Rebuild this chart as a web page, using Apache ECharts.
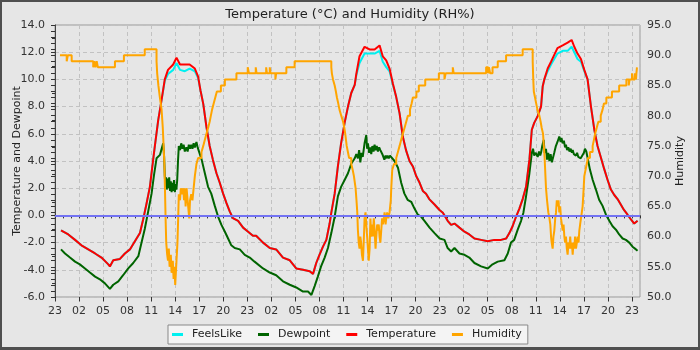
<!DOCTYPE html>
<html>
<head>
<meta charset="utf-8">
<title>Temperature and Humidity</title>
<script src="https://cdn.jsdelivr.net/npm/echarts@6.0.0/dist/echarts.min.js"></script>
<style>
  html, body { margin: 0; padding: 0; background: #e6e6e6; }
  #chart { width: 700px; height: 350px; }
</style>
</head>
<body>
<div id="chart"></div>
<script>
// Time is expressed in hours since 23:00 on the first evening.
const hourTicks = ['23','02','05','08','11','14','17','20','23','02','05','08','11','14','17','20','23','02','05','08','11','14','17','20','23'];

// Air temperature, °C  [hour, value]
const temperature = [
  [0.75,-1.1],[1.66,-1.4],[2.5,-1.8],[3.3,-2.2],[4.15,-2.5],[5.0,-2.8],[5.8,-3.1],[6.65,-3.6],[6.85,-3.75],[7.27,-3.3],
  [8.1,-3.2],[8.72,-2.8],[9.35,-2.5],[9.97,-1.9],[10.6,-1.3],[11.0,-0.3],[11.4,0.8],[11.84,2.1],[12.25,4.1],[12.46,5.1],
  [12.88,7.0],[13.3,8.5],[13.7,10.0],[14.1,10.7],[14.75,11.1],[15.16,11.6],[15.6,11.1],[16.2,11.1],[16.8,11.1],[17.45,10.8],
  [17.86,10.2],[18.15,9.2],[18.5,8.2],[18.9,6.5],[19.3,5.1],[19.7,4.1],[20.15,3.1],[20.56,2.4],[20.98,1.6],[21.4,0.9],
  [21.8,0.3],[22.2,-0.2],[22.85,-0.4],[23.47,-0.9],[24.1,-1.2],[24.7,-1.5],
  [25.1,-1.5],[25.96,-2.0],[26.8,-2.4],[27.6,-2.5],[28.45,-3.1],[29.3,-3.3],[30.1,-3.9],[30.95,-4.0],[31.78,-4.1],[32.2,-4.3],
  [32.6,-3.5],[33.0,-2.9],[33.44,-2.3],[33.86,-1.8],[34.27,-0.6],[34.48,0.2],[34.9,1.6],[35.3,3.6],[35.7,5.3],[36.14,6.8],
  [36.56,8.0],[36.97,9.0],[37.4,9.6],[37.6,10.4],[38.0,11.7],[38.63,12.4],[39.26,12.2],[39.88,12.2],[40.5,12.5],[40.9,11.7],
  [41.33,11.4],[41.75,10.8],[42.16,9.7],[42.58,8.7],[43.0,7.5],[43.4,5.8],[43.8,4.8],[44.24,4.0],[44.66,3.6],[45.07,2.9],
  [45.5,2.4],[45.9,1.8],[46.3,1.6],[46.7,1.2],[47.36,0.8],[47.98,0.4],[48.4,0.2],
  [49.0,-0.4],[49.43,-0.7],[49.85,-0.6],[50.47,-0.9],[51.1,-1.2],[51.7,-1.4],[52.34,-1.7],[53.17,-1.8],[54.0,-1.9],[54.83,-1.8],
  [55.66,-1.8],[56.3,-1.7],[56.7,-1.3],[57.1,-0.8],[57.53,-0.1],[57.95,0.5],[58.36,1.2],[58.78,2.1],[59.2,4.1],[59.5,6.3],
  [59.8,6.8],[60.23,7.3],[60.65,8.0],[60.86,9.5],[61.06,10.0],[61.48,10.8],[61.9,11.3],[62.3,11.8],[62.7,12.3],[63.35,12.5],
  [63.97,12.7],[64.47,12.9],[64.8,12.4],[65.2,11.9],[65.63,11.5],[66.05,10.7],[66.46,10.0],[66.88,8.0],[67.3,6.3],[67.7,5.1],
  [68.1,4.3],[68.54,3.4],[68.96,2.6],[69.37,1.9],[69.79,1.5],[70.2,1.2],[70.6,0.8],[71.0,0.4],[71.45,0.05],[71.87,-0.3],
  [72.28,-0.6],[72.7,-0.4]
];

// Apparent ("feels like") temperature, °C
const feelsLike = [
  [0.75,-1.1],[1.66,-1.4],[2.5,-1.8],[3.3,-2.2],[4.15,-2.5],[5.0,-2.8],[5.8,-3.1],[6.65,-3.6],[6.85,-3.75],[7.27,-3.3],
  [8.1,-3.2],[8.72,-2.8],[9.35,-2.5],[9.97,-1.9],[10.6,-1.3],[11.0,-0.3],[11.4,0.8],[11.84,2.1],[12.25,4.1],[12.46,5.1],
  [12.88,7.0],[13.3,8.5],[13.7,9.9],[14.1,10.4],[14.75,10.7],[15.16,11.2],[15.6,10.7],[16.2,10.6],[16.8,10.8],[17.45,10.6],
  [17.86,10.1],[18.15,9.2],[18.5,8.2],[18.9,6.5],[19.3,5.1],[19.7,4.1],[20.15,3.1],[20.56,2.4],[20.98,1.6],[21.4,0.9],
  [21.8,0.3],[22.2,-0.2],[22.85,-0.4],[23.47,-0.9],[24.1,-1.2],[24.7,-1.5],
  [25.1,-1.5],[25.96,-2.0],[26.8,-2.4],[27.6,-2.5],[28.45,-3.1],[29.3,-3.3],[30.1,-3.9],[30.95,-4.0],[31.78,-4.1],[32.2,-4.3],
  [32.6,-3.5],[33.0,-2.9],[33.44,-2.3],[33.86,-1.8],[34.27,-0.6],[34.48,0.2],[34.9,1.6],[35.3,3.6],[35.7,5.3],[36.14,6.8],
  [36.56,8.0],[36.97,9.0],[37.4,9.6],[37.6,10.3],[38.0,11.2],[38.63,11.9],[39.26,11.9],[39.88,11.9],[40.5,12.1],[40.9,11.3],
  [41.33,10.9],[41.75,10.6],[42.16,9.6],[42.58,8.7],[43.0,7.5],[43.4,5.8],[43.8,4.8],[44.24,4.0],[44.66,3.6],[45.07,2.9],
  [45.5,2.4],[45.9,1.8],[46.3,1.6],[46.7,1.2],[47.36,0.8],[47.98,0.4],[48.4,0.2],
  [49.0,-0.4],[49.43,-0.7],[49.85,-0.6],[50.47,-0.9],[51.1,-1.2],[51.7,-1.4],[52.34,-1.7],[53.17,-1.8],[54.0,-1.9],[54.83,-1.8],
  [55.66,-1.8],[56.3,-1.7],[56.7,-1.3],[57.1,-0.8],[57.53,-0.1],[57.95,0.5],[58.36,1.2],[58.78,2.1],[59.2,4.1],[59.5,6.3],
  [59.8,6.8],[60.23,7.3],[60.65,8.0],[60.86,9.5],[61.06,10.0],[61.48,10.6],[61.9,11.1],[62.3,11.5],[62.7,11.9],[63.35,12.1],
  [63.97,12.1],[64.47,12.4],[64.8,12.0],[65.2,11.5],[65.63,11.3],[66.05,10.6],[66.46,10.0],[66.88,8.0],[67.3,6.3],[67.7,5.1],
  [68.1,4.3],[68.54,3.4],[68.96,2.6],[69.37,1.9],[69.79,1.5],[70.2,1.2],[70.6,0.8],[71.0,0.4],[71.45,0.05],[71.87,-0.3],
  [72.28,-0.6],[72.7,-0.4]
];

// Dew point, °C
const dewpoint = [
  [0.75,-2.5],[1.25,-2.8],[1.87,-3.1],[2.5,-3.4],[3.1,-3.6],[3.74,-3.9],[4.36,-4.2],[5.0,-4.5],[5.6,-4.7],[6.23,-5.0],
  [6.85,-5.4],[7.27,-5.1],[7.9,-4.85],[8.5,-4.4],[9.14,-3.9],[9.76,-3.5],[10.4,-3.0],[10.8,-2.0],[11.2,-1.0],[11.63,0.3],
  [12.05,1.6],[12.34,2.9],[12.67,4.2],[13.1,4.45],[13.5,5.3],[13.62,4.3],[13.7,2.9],[13.78,2.1],[13.86,2.8],[13.95,1.9],
  [14.05,2.7],[14.15,2.0],[14.25,2.8],[14.35,1.8],[14.45,2.5],[14.55,1.7],[14.65,2.4],[14.75,1.8],[14.85,2.6],[14.96,1.7],
  [15.05,2.3],[15.15,1.9],[15.25,2.6],[15.35,4.0],[15.45,5.1],[15.6,4.8],[15.75,5.3],[15.9,4.9],[16.05,5.2],[16.2,4.7],
  [16.4,5.0],[16.55,4.7],[16.7,5.2],[16.85,4.9],[17.0,5.2],[17.15,4.9],[17.3,5.3],[17.45,5.0],[17.65,5.4],[17.8,5.0],
  [17.95,4.9],[18.3,4.1],[18.7,3.1],[19.1,2.1],[19.5,1.6],[19.94,0.7],[20.36,-0.1],[20.77,-0.7],[21.2,-1.2],[21.6,-1.7],
  [22.0,-2.2],[22.43,-2.4],[23.06,-2.5],[23.68,-2.9],[24.3,-3.1],[24.9,-3.4],
  [25.1,-3.5],[25.96,-3.9],[26.8,-4.2],[27.6,-4.4],[28.45,-4.85],[29.3,-5.1],[30.1,-5.3],[30.95,-5.6],[31.57,-5.6],[32.0,-5.85],
  [32.4,-5.2],[32.8,-4.5],[33.2,-3.75],[33.65,-3.1],[34.06,-2.4],[34.48,-1.3],[34.9,-0.1],[35.3,1.4],[35.7,2.1],[36.14,2.6],
  [36.56,3.1],[36.97,3.8],[37.4,4.2],[37.6,4.5],[37.8,4.2],[37.95,4.8],[38.1,3.9],[38.25,4.6],[38.4,4.3],[38.63,5.3],
  [38.84,5.9],[38.95,4.9],[39.05,5.3],[39.2,4.6],[39.35,5.0],[39.46,4.5],[39.6,5.1],[39.75,4.7],[39.88,5.2],[40.0,4.8],
  [40.15,5.1],[40.3,4.7],[40.45,5.0],[40.6,4.8],[40.7,4.9],[40.85,4.5],[41.0,4.4],[41.1,4.1],[41.25,4.4],[41.4,4.2],
  [41.5,4.4],[41.65,4.2],[41.8,4.4],[41.96,4.3],[42.37,4.0],[42.8,3.5],[43.2,2.4],[43.6,1.6],[44.0,1.15],
  [44.45,1.0],[44.86,0.5],[45.28,0.05],[45.7,-0.1],[46.1,-0.4],[46.74,-0.9],[47.36,-1.3],[48.0,-1.7],[48.6,-1.8],
  [49.0,-2.4],[49.43,-2.65],[49.85,-2.4],[50.47,-2.8],[51.1,-2.9],[51.7,-3.1],[52.34,-3.5],[53.17,-3.75],[54.0,-3.9],[54.6,-3.6],
  [55.25,-3.4],[56.08,-3.3],[56.5,-2.8],[56.9,-2.0],[57.3,-1.8],[57.74,-1.05],[58.16,-0.4],[58.45,0.2],[58.78,1.4],[59.2,3.1],
  [59.5,4.6],[59.65,4.9],[59.8,4.4],[60.0,4.6],[60.23,4.3],[60.4,4.7],[60.55,4.4],[60.65,4.6],[60.8,5.1],[60.98,5.55],
  [61.1,4.6],[61.27,4.9],[61.4,4.1],[61.55,4.6],[61.7,4.0],[61.85,4.5],[62.0,3.9],[62.1,4.0],[62.3,4.6],[62.5,5.1],
  [62.7,5.4],[62.93,5.8],[63.1,5.4],[63.2,5.7],[63.35,5.3],[63.5,5.5],[63.65,5.0],[63.76,5.2],[63.9,4.8],[64.05,5.0],
  [64.2,4.7],[64.35,4.9],[64.5,4.6],[64.6,4.8],[64.75,4.5],[64.9,4.6],[65.0,4.4],[65.15,4.6],[65.3,4.3],[65.43,4.4],
  [65.6,4.2],[65.84,4.3],[66.0,4.6],[66.13,4.9],[66.3,4.7],[66.46,4.6],[66.76,3.35],
  [67.1,2.6],[67.5,1.9],[67.9,1.15],[68.33,0.7],[68.75,0.05],[69.17,-0.4],[69.58,-0.8],[70.0,-1.05],[70.4,-1.4],[70.83,-1.7],
  [71.24,-1.8],[71.66,-2.0],[72.07,-2.3],[72.5,-2.5],[72.7,-2.6]
];

// Relative humidity, %  (each reading holds until the next one)
const humidity = [
  [0.62,90],[1.46,89],[1.6,90],[2.08,89],[4.77,88],[4.9,89],[5.05,88],[5.2,89],[5.35,88],[7.48,89],[8.6,90],[11.2,91],
  [12.67,89],[12.75,87],[12.9,85],[13.09,83],[13.3,81],[13.45,78],[13.55,75],[13.65,72],[13.72,68],[13.8,63],[13.88,59],
  [14.0,57],[14.1,56],[14.2,58],[14.3,55],[14.45,57],[14.55,54],[14.7,56],[14.8,53],[14.9,55],[15.0,52],[15.08,54],
  [15.16,56],[15.28,59],[15.37,63],[15.45,67],[15.6,66],[15.7,68],[15.85,67],[16.0,68],[16.1,66],[16.2,68],[16.3,65],
  [16.42,68],[16.55,66],[16.62,65],[16.75,63],[16.85,66],[17.0,67],[17.15,66],[17.3,68],[17.45,70],[17.65,72],[17.86,73],
  [18.28,74],[18.5,75],[18.7,76],[18.9,77],[19.11,78],[19.3,79],[19.45,80],[19.6,81],[19.8,82],[20.0,83],[20.2,84],
  [20.7,85],[21.2,86],[22.64,87],[24.05,88],[24.2,87],[25.05,88],[25.15,87],[26.35,88],[26.45,87],[26.8,88],[26.9,87],
  [27.5,86],[27.6,87],[28.87,88],[29.9,89],
  [34.48,88],[34.55,87],[34.69,86],[34.9,85],[35.05,84],[35.18,83],[35.35,82],[35.5,81],[35.72,80],[35.95,79],[36.1,78],
  [36.22,77],[36.4,75],[36.55,74],[36.7,73],[36.97,72],[37.15,71],[37.3,70],[37.51,68],[37.62,66],[37.72,64],[37.8,61],
  [37.9,59],[38.0,58],[38.1,60],[38.2,59],[38.3,57],[38.43,56],[38.55,60],[38.63,63],[38.75,64],[38.84,62],[38.95,60],
  [39.05,58],[39.15,56],[39.26,58],[39.36,63],[39.46,60],[39.57,62],[39.67,60],[39.78,63],[39.88,61],[40.0,58],[40.09,60],
  [40.2,62],[40.3,61],[40.4,62],[40.5,60],[40.6,59],[40.71,61],[40.82,63],[40.92,62],[41.03,63],[41.13,64],[41.25,62],
  [41.33,63],[41.45,64],[41.6,63],[41.75,64],[41.9,66],[41.96,68],[42.08,71],[42.3,72],[42.58,73],[42.79,74],[43.0,75],
  [43.2,76],[43.41,77],[43.62,78],[43.83,79],[44.03,80],[44.3,81],[44.5,82],[44.66,83],[45.1,84],[45.4,85],[46.2,86],
  [47.9,87],[48.6,86],[48.75,87],[49.64,88],[49.75,87],[53.8,88],[54.05,87],[54.15,88],[54.3,87],[54.6,88],[55.25,89],
  [56.29,90],[58.36,91],
  [59.61,89],[59.68,86],[59.75,84],[59.9,83],[60.05,82],[60.2,81],[60.44,80],[60.6,79],[60.73,78],[60.9,77],[61.0,75],
  [61.1,73],[61.2,70],[61.27,68],[61.4,66],[61.56,64],[61.7,63],[61.81,62],[61.9,60],[61.98,59],[62.1,58],[62.2,60],
  [62.31,61],[62.42,63],[62.52,64],[62.62,66],[62.73,65],[62.83,66],[62.93,64],[63.04,65],[63.14,63],[63.25,62],[63.35,61],
  [63.46,62],[63.56,60],[63.66,59],[63.76,60],[63.87,58],[63.97,57],[64.07,59],[64.18,58],[64.29,60],[64.39,58],[64.5,59],
  [64.6,57],[64.7,59],[64.8,58],[64.9,60],[65.01,58],[65.12,59],[65.22,60],[65.33,59],[65.43,61],[65.53,62],[65.63,63],
  [65.74,64],[65.84,65],[65.97,68],[66.05,70],[66.2,71],[66.35,72],[66.5,73],[66.75,74],[67.09,75],[67.25,76],[67.4,77],
  [67.6,78],[67.8,79],[68.1,80],[68.33,81],[68.5,82],[68.8,83],[69.5,84],[70.4,85],[71.3,86],[71.6,85],[71.7,86],
  [72.0,87],[72.1,86],[72.35,87],[72.5,86],[72.55,87],[72.62,88],[72.7,88]
];

const FONT = 'DejaVu Sans';
const tickText = { fontFamily: FONT, fontSize: 11, color: '#333' };
const gridDash = { color: '#c2c2c2', type: [4, 3], width: 1 };

const chart = echarts.init(document.getElementById('chart'), null, { renderer: 'canvas' });

chart.setOption({
  animation: false,
  backgroundColor: '#e6e6e6',
  title: {
    text: 'Temperature (°C) and Humidity (RH%)',
    left: 'center',
    top: 3,
    textStyle: { fontFamily: FONT, fontSize: 13, fontWeight: 'normal', color: '#222' }
  },
  legend: {
    left: 168,
    top: 325,
    orient: 'horizontal',
    icon: 'rect',
    itemWidth: 11,
    itemHeight: 3,
    itemGap: 16,
    padding: [4, 6, 4, 4],
    backgroundColor: '#f4f4f4',
    borderColor: '#888',
    borderWidth: 1,
    borderRadius: 0,
    textStyle: { fontFamily: FONT, fontSize: 11, color: '#222', padding: [0, 0, 0, 4] },
    data: ['FeelsLike', 'Dewpoint', 'Temperature', 'Humidity']
  },
  grid: {
    left: 55, right: 60, top: 25, bottom: 53,
    show: true, borderColor: '#9a9a9a', borderWidth: 1,
    outerBoundsMode: 'none'
  },
  xAxis: [
    {
      // hourly minor ticks
      type: 'value', min: 0, max: 73, interval: 1,
      axisLine: { show: true, lineStyle: { color: '#9a9a9a', width: 1 } },
      axisTick: { show: true, length: 3, lineStyle: { color: '#333' } },
      axisLabel: { show: false },
      splitLine: { show: false }
    },
    {
      // labelled ticks every three hours
      type: 'value', min: 0, max: 73, interval: 3, position: 'bottom',
      axisLine: { show: false },
      axisTick: { show: true, length: 4.5, lineStyle: { color: '#333' } },
      axisLabel: Object.assign({}, tickText, {
        margin: 9, showMaxLabel: false,
        formatter: v => { const i = Math.round(v / 3); return hourTicks[i] !== undefined ? hourTicks[i] : ''; }
      }),
      splitLine: { show: true, lineStyle: gridDash }
    }
  ],
  yAxis: [
    {
      type: 'value', min: -6, max: 14, interval: 2,
      name: 'Temperature and Dewpoint', nameLocation: 'middle', nameGap: 32, nameRotate: 90,
      nameMoveOverlap: false,
      nameTextStyle: { fontFamily: FONT, fontSize: 11, color: '#222' },
      axisLine: { show: true, lineStyle: { color: '#9a9a9a', width: 1 } },
      axisTick: { show: true, length: 4, lineStyle: { color: '#333' } },
      minorTick: { show: true, splitNumber: 2, length: 3, lineStyle: { color: '#333' } },
      axisLabel: Object.assign({}, tickText, { margin: 10, formatter: v => v.toFixed(1) }),
      splitLine: { show: true, lineStyle: gridDash }
    },
    {
      type: 'value', min: 50, max: 95, interval: 5, position: 'right',
      name: 'Humidity', nameLocation: 'middle', nameGap: 35, nameRotate: 90,
      nameMoveOverlap: false,
      nameTextStyle: { fontFamily: FONT, fontSize: 11, color: '#222' },
      axisLine: { show: true, lineStyle: { color: '#444', width: 1 } },
      axisTick: { show: true, inside: true, length: 4, lineStyle: { color: '#333' } },
      minorTick: { show: true, splitNumber: 5, length: 4, lineStyle: { color: '#333' } },
      axisLabel: Object.assign({}, tickText, { margin: 7, formatter: v => v.toFixed(1) }),
      splitLine: { show: false }
    }
  ],
  series: [
    {
      name: 'FeelsLike', type: 'line', data: feelsLike, xAxisIndex: 0, yAxisIndex: 0,
      color: '#00f0f0', showSymbol: false, symbol: 'none', lineStyle: { width: 2 },
      markLine: {
        silent: true, symbol: 'none', label: { show: false },
        lineStyle: { color: '#7272f2', width: 2, type: 'solid' },
        data: [{ yAxis: 0 }]
      }
    },
    {
      name: 'Dewpoint', type: 'line', data: dewpoint, xAxisIndex: 0, yAxisIndex: 0,
      color: '#006400', showSymbol: false, symbol: 'none', lineStyle: { width: 2 }
    },
    {
      name: 'Temperature', type: 'line', data: temperature, xAxisIndex: 0, yAxisIndex: 0,
      color: '#ff0000', showSymbol: false, symbol: 'none', lineStyle: { width: 2 }
    },
    {
      name: 'Humidity', type: 'line', data: humidity, xAxisIndex: 0, yAxisIndex: 1,
      step: 'end', color: '#ffa500', showSymbol: false, symbol: 'none', lineStyle: { width: 2 }
    }
  ],
  graphic: [
    { type: 'rect', silent: true, z: 100, shape: { x: 1, y: 1, width: 698, height: 348 },
      style: { fill: 'none', stroke: '#4f4f4f', lineWidth: 2 } },
    { type: 'rect', silent: true, z: 100, shape: { x: 0, y: 347, width: 700, height: 3 },
      style: { fill: '#4f4f4f' } }
  ]
});
</script>
</body>
</html>
